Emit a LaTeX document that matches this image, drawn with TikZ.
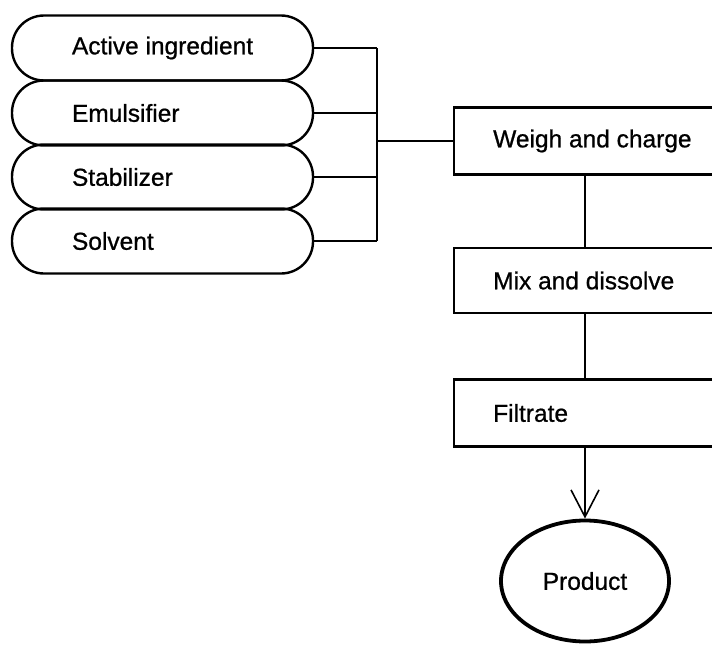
\documentclass[tikz,border=0pt]{standalone}
\usepackage{fontspec}
\setmainfont[FakeBold=0.8,AutoFakeBold=0.8]{Liberation Sans}
\usetikzlibrary{arrows.meta,shapes.geometric,calc}
\begin{document}
\begin{tikzpicture}[x=1pt,y=-1pt,
  every node/.style={font=\fontsize{24.5}{29}\selectfont\bfseries},
  pill/.style={draw,line width=2.4pt,rounded corners=32pt,minimum width=301pt,
    minimum height=65pt,inner sep=0pt},
  stepbox/.style={draw,line width=2.4pt,minimum width=290pt,minimum height=67pt,
    inner sep=0pt,anchor=west},
  link/.style={line width=1.5pt}]
\useasboundingbox (0,0) rectangle (712,645);
\clip (0,0) rectangle (712,645);

% raw materials
\node[pill] (p1) at (162.5,48)  {\makebox[181pt][l]{Active ingredient}};
\node[pill] (p2) at (162.5,113) {\makebox[181pt][l]{Emulsifier}};
\node[pill] (p3) at (162.5,177) {\makebox[181pt][l]{Stabilizer}};
\node[pill] (p4) at (162.5,241) {\makebox[181pt][l]{Solvent}};

% process steps
\node[stepbox] (w) at (453,141) {\makebox[212pt][l]{Weigh and charge}};
\node[stepbox,minimum height=65pt] (m) at (453,280.5) {\makebox[212pt][l]{Mix and dissolve}};
\node[stepbox] (f) at (453,413) {\makebox[212pt][l]{Filtrate}};

% product
\node[draw,ellipse,line width=3.8pt,minimum width=168pt,minimum height=121pt,inner sep=0pt]
  (prod) at (585,581) {Product};

% collecting line
\coordinate (j) at (377,141);
\foreach \p in {p1,p2,p3,p4}
  \draw[link] (\p.east) -- (\p.east -| j);
\draw[link] (p1.east -| j) -- (p4.east -| j);
\draw[link] (j) -- (w.west);

% flow between steps
\draw[link] (w.south -| prod.north) -- (m.north -| prod.north);
\draw[link] (m.south -| prod.north) -- (f.north -| prod.north);
\draw[link,-{Straight Barb[length=27pt,width=28pt,line width=1.6pt]}]
  (f.south -| prod.north) -- (prod.north);
\end{tikzpicture}
\end{document}
